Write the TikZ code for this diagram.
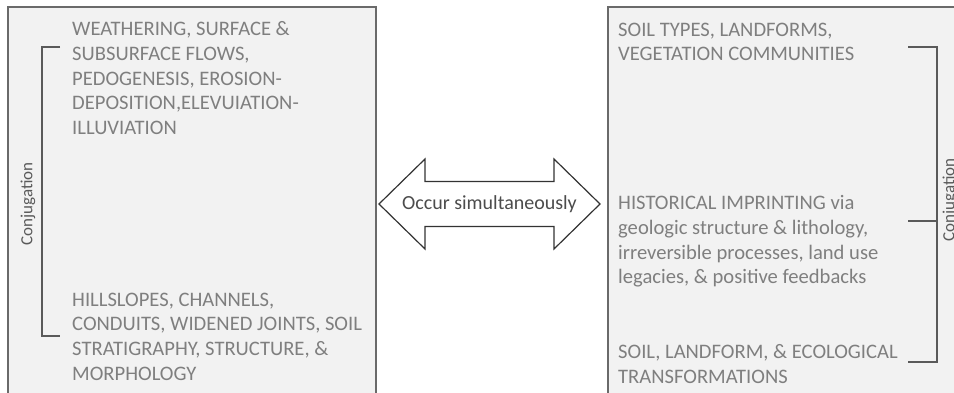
\documentclass[tikz,border=0pt]{standalone}
\usepackage{fontspec}
\setmainfont{Carlito}
\definecolor{boxfill}{HTML}{F2F2F2}
\definecolor{boxline}{HTML}{6A6A6A}
\definecolor{txtgray}{HTML}{7F7F7F}
\definecolor{brgray}{HTML}{5A5A5A}
\begin{document}
\begin{tikzpicture}[x=1pt,y=-1pt,
  panel/.style={fill=boxfill,draw=boxline,line width=1.8pt},
  blocktext/.style={anchor=north west,inner sep=0pt,align=left,text=txtgray,
    font=\fontsize{20.6}{24.7}\selectfont},
  bracketline/.style={draw=brgray,line width=1.4pt},
  conjlabel/.style={inner sep=0pt,text=brgray,font=\fontsize{17}{19}\selectfont},
  arrowshape/.style={draw=black!80,line width=1.2pt,fill=white,line join=miter}]
\useasboundingbox (0,0) rectangle (954,393);
\begin{scope}
\clip (0,0) rectangle (954,393);
% panels
\path[panel] (8,7) rectangle (376,420);
\path[panel] (608,7) rectangle (980,420);
% right label, partly cut off at the edge as in the reference
\node[conjlabel,rotate=90] (rc) at (950,200) {Conjugation};
\end{scope}

% left texts
\node[blocktext] (lt) at (72,21.5) {WEATHERING, SURFACE \&\\SUBSURFACE FLOWS,\\PEDOGENESIS, EROSION-\\DEPOSITION,ELEVUIATION-\\ILLUVIATION};
\node[blocktext] (lb) at (72,292.5) {HILLSLOPES, CHANNELS,\\CONDUITS, WIDENED JOINTS, SOIL\\STRATIGRAPHY, STRUCTURE, \&\\MORPHOLOGY};

% right texts
\node[blocktext] (rt) at (618,22.5) {SOIL TYPES, LANDFORMS,\\VEGETATION COMMUNITIES};
\node[blocktext] (rm) at (618,195.5) {HISTORICAL IMPRINTING via\\geologic structure \& lithology,\\irreversible processes, land use\\legacies, \& positive feedbacks};
\node[blocktext] (rb) at (618,344.5) {SOIL, LANDFORM, \& ECOLOGICAL\\TRANSFORMATIONS};

% left bracket
\draw[bracketline] (60,47) -- (42,47) -- (42,336) -- (60,336);
\node[conjlabel,rotate=90] (lc) at (28,204) {Conjugation};

% right bracket
\draw[bracketline] (908,47) -- (937,47) -- (937,362) -- (908,362);
\draw[bracketline] (908,221) -- (937,221);

% double arrow
\path[arrowshape] (379,204) -- (425,159) -- (425,181.5) -- (554,181.5) -- (554,159)
  -- (600,204) -- (554,249) -- (554,226.5) -- (425,226.5) -- (425,249) -- cycle;
\node[inner sep=0pt,text=black!70,font=\fontsize{20}{22}\selectfont] (arr) at (489.5,204) {Occur simultaneously};
\end{tikzpicture}
\end{document}
